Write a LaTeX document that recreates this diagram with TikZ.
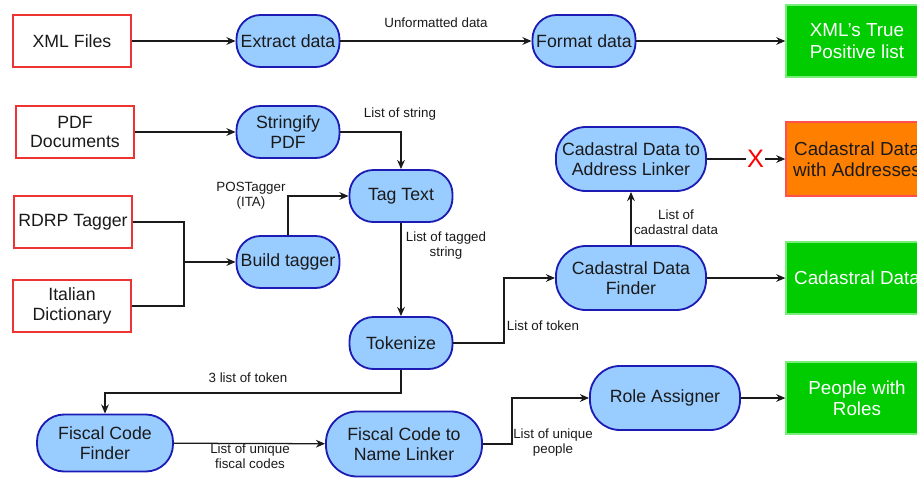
\documentclass[tikz,border=0pt]{standalone}
\usepackage{fontspec}
\setmainfont{Liberation Sans}
\usetikzlibrary{arrows.meta}
\definecolor{procfill}{HTML}{99CCFF}
\definecolor{procdraw}{HTML}{1C1CB4}
\definecolor{srcdraw}{HTML}{EE3333}
\definecolor{okfill}{HTML}{00CC00}
\definecolor{okdraw}{HTML}{77EE77}
\definecolor{warnfill}{HTML}{FF8000}
\definecolor{warndraw}{HTML}{FF5050}
\definecolor{ink}{HTML}{1A1A1A}
\begin{document}
\begin{tikzpicture}[x=0.025cm,y=-0.025cm,
    font=\fontsize{12.6}{14.2}\selectfont, text=ink,
    src/.style={draw=srcdraw, line width=0.9pt, fill=white, align=center,
      minimum width=2.95cm, minimum height=1.3cm, inner sep=1pt},
    proc/.style={draw=procdraw, line width=1.3pt, fill=procfill, align=center,
      rounded corners=0.6cm, minimum width=2.575cm, minimum height=1.3cm, inner sep=1pt},
    bigproc/.style={proc, rounded corners=0.75cm, minimum width=3.75cm, minimum height=1.6cm},
    done/.style={draw=okdraw, line width=0.9pt, fill=okfill, text=white, align=center,
      font=\fontsize{13.4}{15.2}\selectfont, minimum width=3.55cm, minimum height=1.8cm},
    warn/.style={draw=warndraw, line width=0.9pt, fill=warnfill, text=ink, align=center,
      font=\fontsize{13.4}{15.2}\selectfont, minimum width=3.55cm, minimum height=1.85cm},
    lbl/.style={font=\fontsize{9.5}{10.7}\selectfont, align=center, inner sep=1pt},
    arr/.style={draw=ink, line width=0.9pt, -{Stealth[length=6.5pt,width=5.5pt]}},
    link/.style={draw=ink, line width=0.9pt}]
  \useasboundingbox (0,0) rectangle (917,481);
  \node[src] (xml) at (72,41) {XML Files};
  \node[proc] (extract) at (288,41) {Extract data};
  \node[proc] (format) at (584,41) {Format data};
  \node[done] (xmltp) at (857,41) {XML's True\\Positive list};
  \node[src] (pdf) at (75,132) {PDF\\Documents};
  \node[proc] (stringify) at (288,132) {Stringify\\PDF};
  \node[proc] (tag) at (401,196) {Tag Text};
  \node[src] (rdrp) at (73,222) {RDRP Tagger};
  \node[src] (italian) at (72,306) {Italian\\Dictionary};
  \node[proc] (build) at (288,262) {Build tagger};
  \node[proc] (tokenize) at (401,343) {Tokenize};
  \node[bigproc] (cfinder) at (631,278) {Cadastral Data\\Finder};
  \node[bigproc] (alinker) at (631,159) {Cadastral Data to\\Address Linker};
  \node[warn] (caddr) at (857,159) {Cadastral Data\\with Addresses};
  \node[done] (cdata) at (857,278) {Cadastral Data};
  \node[bigproc] (roles) at (665,398) {Role Assigner};
  \node[done] (people) at (857,398) {People with\\Roles};
  \node[proc, minimum width=3.4cm, minimum height=1.425cm, rounded corners=0.68cm]
    (fcfinder) at (105,443) {Fiscal Code\\Finder};
  \node[proc, minimum width=3.9cm, minimum height=1.625cm, rounded corners=0.78cm]
    (fclinker) at (404,444) {Fiscal Code to\\Name Linker};
  \coordinate (tagjoin) at (184,262);
  \coordinate (tokjoin) at (504,278);
  \coordinate (peoplejoin) at (512,398);
  \draw[arr] (xml) -- (extract);
  \draw[arr] (extract) -- (format);
  \draw[arr] (format) -- (xmltp);
  \draw[arr] (pdf) -- (stringify);
  \draw[arr] (stringify) -| (tag);
  \draw[link] (rdrp) -| (tagjoin);
  \draw[link] (italian) -| (tagjoin);
  \draw[arr] (tagjoin) -- (build);
  \draw[arr] (build) |- (tag);
  \draw[arr] (tag) -- (tokenize);
  \draw[arr] (tokenize) -| (tokjoin) -- (cfinder);
  \draw[arr] (tokenize.south) -- ++(0,23) -| (fcfinder);
  \draw[arr] (cfinder) -- (alinker);
  \draw[arr] (alinker) -- node[pos=0.62, text=red, fill=white, inner sep=0.5pt,
    font=\fontsize{18}{18}\selectfont] (cross) {X} (caddr);
  \draw[arr] (cfinder) -- (cdata);
  \draw[arr] (fcfinder) -- (fclinker);
  \draw[arr] (fclinker) -| (peoplejoin) -- (roles);
  \draw[arr] (roles) -- (people);
  \node[lbl] (unformatted) at (436,23) {Unformatted data};
  \node[lbl] (strings) at (400,114) {List of string};
  \node[lbl] (postagger) at (251,196) {POSTagger\\(ITA)};
  \node[lbl] (tagged) at (446,246) {List of tagged\\string};
  \node[lbl] (tokens) at (543,326) {List of token};
  \node[lbl] (threetokens) at (248,378) {3 list of token};
  \node[lbl] (cadlist) at (676,222) {List of\\cadastral data};
  \node[lbl] (fiscal) at (250,456) {List of unique\\fiscal codes};
  \node[lbl] (unique) at (553,443) {List of unique\\people};
\end{tikzpicture}
\end{document}
